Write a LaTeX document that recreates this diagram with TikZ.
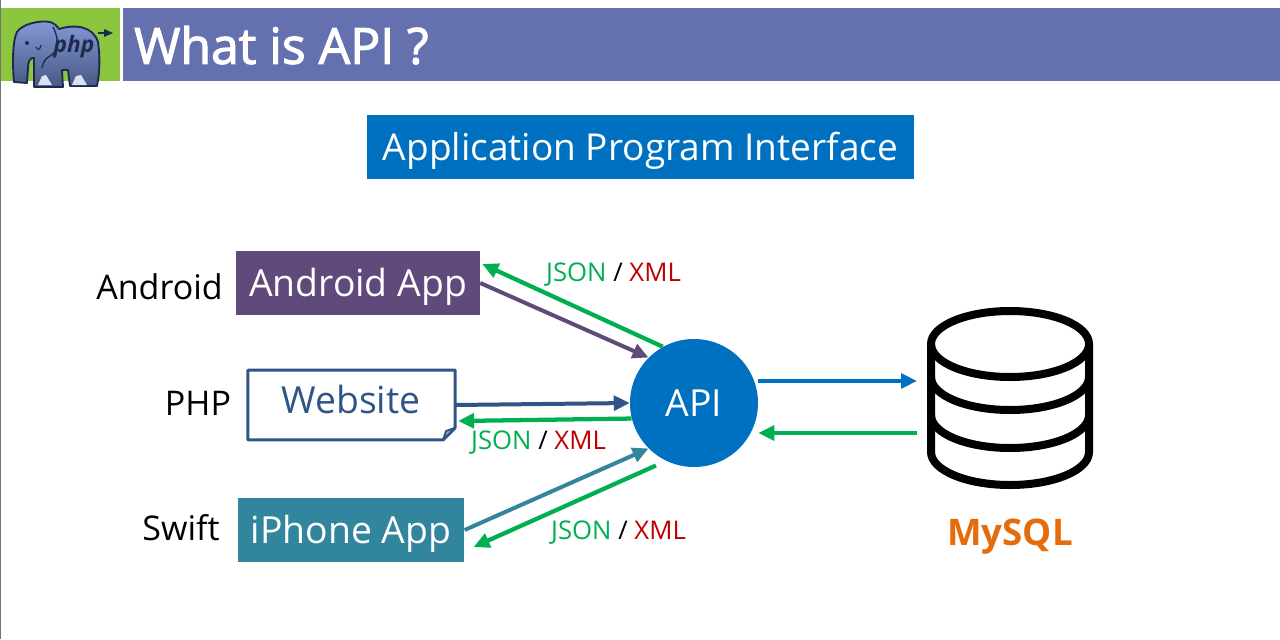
\documentclass[tikz,border=0pt]{standalone}
\usepackage{fontspec}
\setmainfont{Open Sans}
\newfontfamily\heavyfont[FakeBold=2.2]{Open Sans}
\usetikzlibrary{arrows.meta,calc}
\definecolor{headblue}{HTML}{6571AF}
\definecolor{headgreen}{HTML}{8CC63F}
\definecolor{apiblue}{HTML}{0070C0}
\definecolor{apppurple}{HTML}{604A7B}
\definecolor{webblue}{HTML}{2F5487}
\definecolor{appteal}{HTML}{31859C}
\definecolor{jsongreen}{HTML}{00B050}
\definecolor{xmlred}{HTML}{C00000}
\definecolor{sqlorange}{HTML}{E46C0A}
\definecolor{elephant}{HTML}{6F88CE}
\definecolor{elephantdark}{HTML}{1E2A4E}
\tikzset{
	midtext/.style={inner sep=0, font=\fontsize{#1}{#1}\selectfont, text height=\dimexpr #1pt*714/1000\relax, text depth=0pt},
	appbox/.style={midtext=28, text=white},
	tag/.style={midtext=25.5},
	fmt/.style={midtext=19.3},
	tipped/.style={-{Triangle[length=12pt,width=11pt]}, line width=3pt},
	reply/.style={-{Triangle[length=12pt,width=11pt]}, line width=3.2pt, color=jsongreen},
	dbline/.style={line width=6pt, line cap=round, line join=round},
}
\newcommand{\fmtlabel}{{\color{jsongreen}JSON} / {\color{xmlred}XML}}
\begin{document}
\begin{tikzpicture}[x=0.75pt, y=-0.75pt]
		%%%%% START %%%%%
		\useasboundingbox (0, 0) rectangle (1280, 639);
		\draw[line width=1pt, color=black!55] (0.5, 0) -- (0.5, 639);
		
		% header
		\fill[headgreen] (1, 8) rectangle (120, 81);
		\fill[headblue] (123, 8) rectangle (1280, 81);
		\node[midtext=37.4, anchor=west, text=white] (title) at (134, 46) {\heavyfont What is API ?};
		
		% elephant
		\draw[elephantdark, line width=1.2pt] (98, 33) -- (108, 33);
		\fill[elephantdark] (104, 29) -- (113, 33) -- (104, 37) -- cycle;
		\draw[draw=elephantdark, top color=elephant!85!white, bottom color=elephant!65!black, line width=1.4pt, line join=round]
			(14, 82) .. controls (12, 60) and (13, 40) .. (17, 32)
			.. controls (22, 24) and (40, 20) .. (50, 22)
			.. controls (54, 23) and (57, 26) .. (59, 29)
			.. controls (75, 24) and (93, 26) .. (98, 42)
			.. controls (100, 55) and (100, 72) .. (97, 86)
			-- (70, 86) -- (68, 70) -- (62, 70) -- (63, 87)
			-- (34, 87) -- (34, 58)
			.. controls (30, 57) and (28, 62) .. (28, 68)
			-- (27, 83) -- cycle;
		\draw[elephantdark, line width=1pt] (53, 27) .. controls (60, 40) and (58, 52) .. (50, 56) .. controls (46, 58) and (43, 62) .. (42, 68);
		\draw[elephantdark, line width=0.8pt] (36, 47) .. controls (38, 51) and (40, 50) .. (41, 45);
		\fill[elephantdark] (27, 43) circle (2);
		\fill[white!75!elephant] (38, 85) -- (42, 76) -- (46, 75) -- (52, 85) -- cycle;
		\fill[white!75!elephant] (72, 85) -- (76, 76) -- (81, 75) -- (87, 85) -- cycle;
		\node[inner sep=0, text=elephantdark, font=\fontsize{17}{17}\selectfont\bfseries\itshape] (phptext) at (74, 47) {php};
		
		% banner
		\node[midtext=27.8, fill=apiblue, text=white, minimum width=410.25pt, minimum height=48pt] (banner) at (640.5, 147) {Application Program Interface\hspace{3pt}};
		
		% clients
		\node[appbox, fill=apppurple, minimum width=183pt, minimum height=48pt] (android) at (358, 283) {Android App};
		\node[midtext=28, minimum width=155pt, minimum height=52pt] (website) at (351.5, 405) {};
		\node[midtext=28, text=webblue] (websitetext) at (351, 400) {Website};
		\node[appbox, fill=appteal, minimum width=170pt, minimum height=48pt] (iphone) at (351, 530) {iPhone App};
		\draw[webblue, line width=2.2pt, line join=round] (website.north west) -- (website.north east) -- ($(website.south east)+(0,-12)$) -- ($(website.south east)+(-12,0)$) -- (website.south west) -- cycle;
		\draw[webblue, fill=webblue!50, line width=1.5pt, line join=round] ($(website.south east)+(0,-12)$) -- ($(website.south east)+(-9,-9)$) -- ($(website.south east)+(-12,0)$) -- cycle;
		
		\node[tag, anchor=east] (androidtag) at (223, 287) {Android};
		\node[tag] (phptag) at (198, 403) {PHP};
		\node[tag] (swifttag) at (181, 528) {Swift};
		
		% api and database
		\node[circle, midtext=28, fill=apiblue, text=white, minimum size=96pt] (api) at (694, 403) {API};
		
		\node[inner sep=0, minimum width=124.5pt, minimum height=136.5pt] (db) at (1010, 398) {};
		\coordinate (dbin) at (917, 381);
		\coordinate (dbout) at (917, 433);
		\draw[dbline] (1010, 344) ellipse (79 and 33);
		\draw[dbline] (931, 344) -- (931, 452) arc (180:0:79 and 33) -- (1089, 344);
		\draw[dbline] (931, 377) arc (180:0:79 and 33);
		\draw[dbline] (931, 415) arc (180:0:79 and 33);
		\node[midtext=27.5, text=sqlorange] (mysql) at (1010, 532) {\bfseries MySQL};
		
		% connectors
		\draw[tipped, color=apppurple] (android.east) -- (api.135);
		\draw[reply] (api.119) -- ($(android.east)+(2,-19)$);
		\draw[tipped, color=webblue] (website.east) -- (api.west);
		\draw[reply] (api.194) -- ($(website.east)+(3,16)$);
		\draw[tipped, color=appteal] (iphone.east) -- (api.225);
		\draw[reply] ($(api.238)+(-4,8)$) -- ($(iphone.east)+(9,17)$);
		\draw[tipped, color=apiblue, line width=3.2pt] (api.east |- dbin) -- (dbin);
		\draw[reply] (dbout) -- (api.east |- dbout);
		
		% formats
		\node[fmt] (fmta) at (613.5, 272) {\fmtlabel};
		\node[fmt] (fmtb) at (538.5, 440) {\fmtlabel};
		\node[fmt] (fmtc) at (618.5, 530) {\fmtlabel};
		%%%%% END %%%%%
	\end{tikzpicture}
\end{document}
